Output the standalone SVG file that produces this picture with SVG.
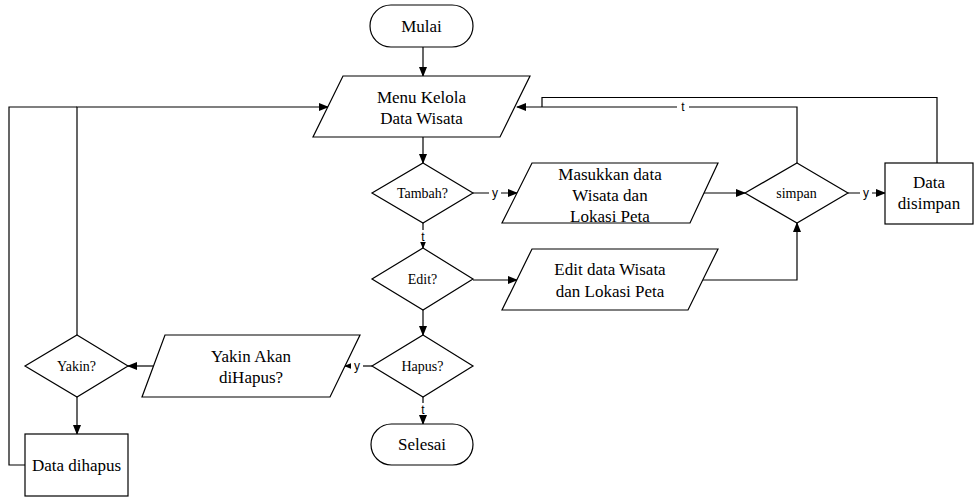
<svg xmlns="http://www.w3.org/2000/svg" width="974" height="497" viewBox="0 0 974 497">
<defs>
<marker id="ah" markerWidth="10" markerHeight="8" refX="9" refY="4" orient="auto" markerUnits="userSpaceOnUse">
<path d="M0,0 L10,4 L0,8 Z" fill="#000"/>
</marker>
<style>
.s{fill:#fff;stroke:#000;stroke-width:1.2}
.c{fill:none;stroke:#000;stroke-width:1.2}
.a{marker-end:url(#ah)}
text{font-family:'Liberation Serif','Times New Roman','DejaVu Serif',serif;fill:#000;text-anchor:middle}
.t{font-size:17px}
.sm{font-size:14px}
text.l{font-family:'Liberation Sans',Arial,sans-serif;font-size:12px}
.lb{fill:#fff}
</style>
</defs>
<rect width="974" height="497" fill="#fff"/>
<g id="connectors">
<path class="c a" d="M423,47 V76"/>
<path class="c a" d="M423,137 V163"/>
<path class="c a" d="M473,193 H517"/>
<path class="c a" d="M704,193 H745"/>
<path class="c a" d="M848,193 H885"/>
<path class="c a" d="M797,163 V107 H517"/>
<path class="c" d="M937,163 V97.5 H542 V107"/>
<path class="c a" d="M423,223 V248"/>
<path class="c a" d="M473,280 H517"/>
<path class="c a" d="M703,280 H797 V223"/>
<path class="c a" d="M423,310 V335"/>
<path class="c a" d="M372,366 H345"/>
<path class="c a" d="M153,366 H128"/>
<path class="c a" d="M423,397 V424"/>
<path class="c a" d="M77,397 V434"/>
<path class="c a" d="M77,335 V107 H328"/>
<path class="c" d="M25,465 H9 V107 H77"/>
<rect class="lb" x="489" y="186" width="12" height="13"/>
<text class="l" x="495" y="197">y</text>
<rect class="lb" x="860" y="186" width="12" height="13"/>
<text class="l" x="866" y="197">y</text>
<rect class="lb" x="677" y="100" width="12" height="13"/>
<text class="l" x="683" y="111">t</text>
<rect class="lb" x="418" y="230" width="10" height="12"/>
<text class="l" x="423" y="241">t</text>
<rect class="lb" x="351" y="359" width="12" height="13"/>
<text class="l" x="357" y="370">y</text>
<rect class="lb" x="418" y="403" width="10" height="12"/>
<text class="l" x="423" y="414">t</text>
</g>
<g id="mulai">
<rect class="s" x="370" y="5" width="103" height="42" rx="21"/>
<text class="t" x="421.5" y="32">Mulai</text>
</g>
<g id="menu">
<polygon class="s" points="343,76 530,76 500,137 313,137"/>
<text class="t" x="421.5" y="103">Menu Kelola</text>
<text class="t" x="421.5" y="124">Data Wisata</text>
</g>
<g id="tambah">
<polygon class="s" points="423,163 473,193 423,223 372,193"/>
<text class="sm" x="422.5" y="198">Tambah?</text>
</g>
<g id="masukkan">
<polygon class="s" points="532,163 718,163 690,223 502,223"/>
<text class="t" x="610" y="180">Masukkan data</text>
<text class="t" x="610" y="201">Wisata dan</text>
<text class="t" x="610" y="222">Lokasi Peta</text>
</g>
<g id="simpan">
<polygon class="s" points="797,163 848,193 797,223 745,193"/>
<text class="sm" x="796.5" y="198">simpan</text>
</g>
<g id="disimpan">
<rect class="s" x="885" y="163" width="88" height="61"/>
<text class="t" x="929" y="188">Data</text>
<text class="t" x="929" y="209">disimpan</text>
</g>
<g id="edit">
<polygon class="s" points="423,248 473,279 423,310 372,279"/>
<text class="sm" x="422.5" y="284">Edit?</text>
</g>
<g id="editdata">
<polygon class="s" points="532,249 718,249 688,310 502,310"/>
<text class="t" x="610" y="275">Edit data Wisata</text>
<text class="t" x="610" y="297">dan Lokasi Peta</text>
</g>
<g id="hapus">
<polygon class="s" points="423,335 473,366 423,397 372,366"/>
<text class="sm" x="422.5" y="371">Hapus?</text>
</g>
<g id="yakinakan">
<polygon class="s" points="165,335 360,335 330,397 142,397"/>
<text class="t" x="251" y="362">Yakin Akan</text>
<text class="t" x="251" y="383">diHapus?</text>
</g>
<g id="yakin">
<polygon class="s" points="77,335 128,366 77,397 25,366"/>
<text class="sm" x="76.5" y="371">Yakin?</text>
</g>
<g id="dihapus">
<rect class="s" x="25" y="434" width="103" height="62"/>
<text class="t" x="76.5" y="471">Data dihapus</text>
</g>
<g id="selesai">
<rect class="s" x="371" y="424" width="102" height="41" rx="20.5"/>
<text class="t" x="422" y="450">Selesai</text>
</g>
</svg>
